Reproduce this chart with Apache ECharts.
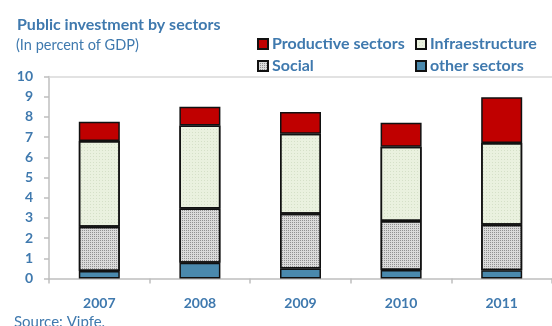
<!DOCTYPE html>
<html>
<head>
<meta charset="utf-8">
<script src="https://cdn.jsdelivr.net/npm/echarts@6/dist/echarts.min.js"></script>
<style>
  html, body { margin: 0; padding: 0; background: #fff; }
  #chart { width: 552px; height: 326px; }
</style>
</head>
<body>
<div id="chart"></div>
<script>
// Public investment by sector, percent of GDP
const years = ['2007', '2008', '2009', '2010', '2011'];
const otherSectors = [0.37, 0.78, 0.49, 0.42, 0.41];
const social = [2.19, 2.68, 2.72, 2.43, 2.25];
const infraestructure = [4.25, 4.12, 3.96, 3.67, 4.05];
const productive = [0.95, 0.92, 1.07, 1.19, 2.26];
const yTicks = [0, 1, 2, 3, 4, 5, 6, 7, 8, 9, 10];

const BLUE = '#3F79AE';
const FONT = 'Lato, "Open Sans", sans-serif';

const chart = echarts.init(document.getElementById('chart'), null, { renderer: 'canvas' });

function barSeries(name, data, color, decal) {
  const itemStyle = { color: color, borderColor: '#111', borderWidth: 1.5 };
  if (decal) itemStyle.decal = decal;
  return {
    name: name,
    type: 'bar',
    stack: 'total',
    data: data,
    barWidth: 41,
    itemStyle: itemStyle,
    emphasis: { disabled: true }
  };
}

// fine dotted shading for the social segments
const socialDecal = {
  symbol: 'rect', symbolSize: 1, symbolKeepAspect: false,
  dashArrayX: [1, 1], dashArrayY: [1, 1], rotation: 0,
  color: 'rgba(70,70,70,0.5)'
};
// faint dotted texture for the infrastructure segments
const infraDecal = {
  symbol: 'rect', symbolSize: 1, symbolKeepAspect: false,
  dashArrayX: [1, 2], dashArrayY: [1, 2], rotation: 0,
  color: 'rgba(150,175,130,0.25)'
};

const legendText = { color: BLUE, fontSize: 16, fontWeight: 'bold', lineHeight: 18, padding: [0, 0, 0, -1] };

chart.setOption({
  animation: false,
  textStyle: { fontFamily: FONT },
  title: [
    { text: 'Public investment by sectors', left: 12, top: 12,
      textStyle: { color: BLUE, fontSize: 16, fontWeight: 'bold', fontFamily: FONT } },
    { text: '(In percent of GDP)', left: 11, top: 33,
      textStyle: { color: BLUE, fontSize: 14.5, fontWeight: 'normal', fontFamily: FONT } },
    { text: 'Source: Vipfe.', left: 9, top: 310,
      textStyle: { color: BLUE, fontSize: 15, fontWeight: 'normal', fontFamily: FONT } }
  ],
  legend: [
    { data: ['Productive sectors', 'Social'], orient: 'vertical', left: 252, top: 30,
      icon: 'rect', itemWidth: 10, itemHeight: 10, itemGap: 4, selectedMode: false,
      textStyle: legendText },
    { data: ['Infraestructure', 'other sectors'], orient: 'vertical', left: 410, top: 30,
      icon: 'rect', itemWidth: 10, itemHeight: 10, itemGap: 4, selectedMode: false,
      textStyle: legendText }
  ],
  grid: { left: 49, top: 76.5, width: 515, height: 202 },
  xAxis: [
    { type: 'category', data: years,
      axisLine: { lineStyle: { color: '#BFBFBF', width: 1.5 } },
      axisTick: { show: true, length: 5, lineStyle: { color: '#BFBFBF', width: 1.5 } },
      axisLabel: { color: BLUE, fontSize: 14, fontWeight: 'bold', margin: 18 } },
    { type: 'category', data: years, position: 'top',
      axisLine: { lineStyle: { color: '#D9D9D9', width: 1.5 } },
      axisTick: { show: false }, axisLabel: { show: false } }
  ],
  yAxis: {
    type: 'value', min: yTicks[0], max: yTicks[yTicks.length - 1], interval: 1,
    axisLine: { show: true, lineStyle: { color: '#BFBFBF', width: 1.5 } },
    axisTick: { show: true, length: 5, lineStyle: { color: '#BFBFBF', width: 1.5 } },
    splitLine: { show: false },
    axisLabel: { color: BLUE, fontSize: 14, fontWeight: 'bold', margin: 16 }
  },
  series: [
    barSeries('other sectors', otherSectors, '#4A89AD'),
    barSeries('Social', social, '#DADADA', socialDecal),
    barSeries('Infraestructure', infraestructure, '#EAF1DF', infraDecal),
    barSeries('Productive sectors', productive, '#C00000')
  ]
});
</script>
</body>
</html>
